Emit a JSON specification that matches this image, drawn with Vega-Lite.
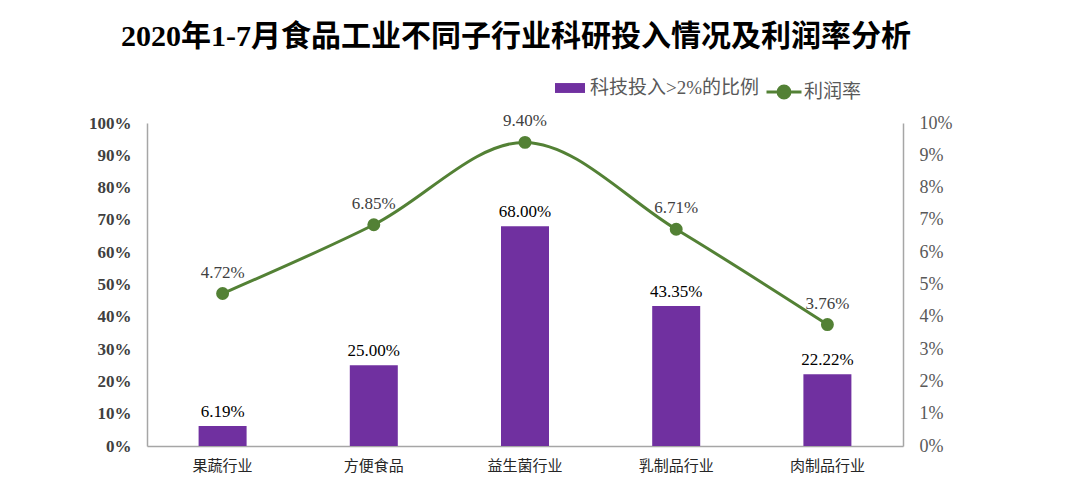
{
  "$schema": "https://vega.github.io/schema/vega-lite/v6.json",
  "width": 756,
  "height": 323,
  "autosize": {"type": "none"},
  "padding": {"left": 147, "top": 123, "right": 177, "bottom": 49},
  "background": "white",
  "title": {
    "text": "2020年1-7月食品工业不同子行业科研投入情况及利润率分析",
    "font": "Liberation Serif, Noto Sans CJK SC",
    "fontSize": 30,
    "fontWeight": "bold",
    "color": "#000000",
    "anchor": "middle",
    "offset": 21,
    "dx": -9
  },
  "config": {
    "view": {"stroke": null},
    "font": "Liberation Serif, Noto Sans CJK SC"
  },
  "data": {
    "values": [
      {"cat": "果蔬行业", "invest": 0.0619, "profit": 0.0472},
      {"cat": "方便食品", "invest": 0.25, "profit": 0.0685},
      {"cat": "益生菌行业", "invest": 0.68, "profit": 0.094},
      {"cat": "乳制品行业", "invest": 0.4335, "profit": 0.0671},
      {"cat": "肉制品行业", "invest": 0.2222, "profit": 0.0376}
    ]
  },
  "encoding": {
    "x": {
      "field": "cat",
      "type": "nominal",
      "sort": null,
      "title": null,
      "axis": {
        "labelAngle": 0,
        "labelFont": "Liberation Serif, Noto Sans CJK SC",
        "labelFontSize": 15,
        "labelColor": "#262626",
        "labelPadding": 12,
        "ticks": false,
        "domainColor": "#A6A6A6",
        "domainWidth": 1.5
      }
    }
  },
  "layer": [
    {
      "encoding": {
        "y": {
          "field": "invest",
          "type": "quantitative",
          "scale": {"domain": [0, 1]},
          "title": null,
          "axis": {
            "orient": "left",
            "format": ".0%",
            "values": [0, 0.1, 0.2, 0.3, 0.4, 0.5, 0.6, 0.7, 0.8, 0.9, 1],
            "labelOverlap": false,
            "grid": false,
            "ticks": false,
            "labelFontSize": 17,
            "labelFontWeight": "bold",
            "labelColor": "#404040",
            "labelPadding": 16,
            "domainColor": "#A6A6A6",
            "domainWidth": 1.5
          }
        }
      },
      "layer": [
        {
          "mark": {"type": "bar", "size": 48, "color": "#7030A0"},
          "encoding": {
            "fill": {
              "datum": "科技投入>2%的比例",
              "scale": {"range": ["#7030A0"]},
              "legend": {
                "title": null,
                "orient": "none",
                "legendX": 408,
                "legendY": -50,
                "symbolType": "M-1,-0.33H1V0.33H-1Z",
                "symbolSize": 900,
                "symbolStrokeWidth": 0,
                "labelFontSize": 19,
                "labelLimit": 400,
                "labelColor": "#595959",
                "labelOffset": 5
              }
            }
          }
        },
        {
          "mark": {"type": "text", "dy": -14, "fontSize": 17, "color": "#000000"},
          "encoding": {
            "text": {"field": "invest", "type": "quantitative", "format": ".2%"}
          }
        }
      ]
    },
    {
      "encoding": {
        "y": {
          "field": "profit",
          "type": "quantitative",
          "scale": {"domain": [0, 0.1]},
          "title": null,
          "axis": {
            "orient": "right",
            "format": ".0%",
            "values": [0, 0.01, 0.02, 0.03, 0.04, 0.05, 0.06, 0.07, 0.08, 0.09, 0.1],
            "labelOverlap": false,
            "grid": false,
            "ticks": false,
            "labelFontSize": 18,
            "labelColor": "#595959",
            "labelPadding": 16,
            "domainColor": "#A6A6A6",
            "domainWidth": 1.5
          }
        }
      },
      "layer": [
        {
          "mark": {
            "type": "line",
            "interpolate": "catmull-rom",
            "strokeWidth": 3,
            "color": "#538135",
            "point": {"filled": true, "size": 120, "color": "#538135"}
          },
          "encoding": {
            "stroke": {
              "datum": "利润率",
              "scale": {"range": ["#538135"]},
              "legend": {
                "title": null,
                "orient": "none",
                "legendX": 618,
                "legendY": -50,
                "symbolType": "M-1,0H1M0.34,0A0.34,0.34,0,1,1,-0.34,0A0.34,0.34,0,1,1,0.34,0Z",
                "symbolSize": 1225,
                "symbolStrokeWidth": 3,
                "symbolFillColor": "#538135",
                "labelFontSize": 19,
                "labelLimit": 400,
                "labelColor": "#595959",
                "labelOffset": 1
              }
            }
          }
        },
        {
          "mark": {"type": "text", "dy": -21, "fontSize": 17, "color": "#404040"},
          "encoding": {
            "text": {"field": "profit", "type": "quantitative", "format": ".2%"}
          }
        }
      ]
    }
  ],
  "resolve": {"scale": {"y": "independent"}}
}
